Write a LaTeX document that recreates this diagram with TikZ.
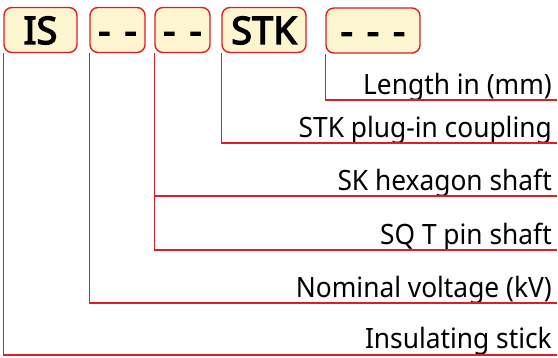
\documentclass[tikz,border=0pt]{standalone}
\usepackage{fontspec}
\setmainfont{Noto Sans}[FakeStretch=0.94]
\newfontfamily\boxfont{Noto Sans}[FakeStretch=1.0, FakeBold=3.5]
\newcommand\dashgap{\hspace{14pt}}
\definecolor{lred}{RGB}{228,26,36}
\definecolor{lcream}{RGB}{252,245,208}
\tikzset{
  codebox/.style={draw=lred, fill=lcream, line width=1.4pt, rounded corners=8pt,
    minimum height=45pt, inner sep=0pt, text height=28pt, text depth=0pt,
    font=\boxfont\fontsize{38}{40}\selectfont, text=black},
  leader/.style={draw=lred, line width=1.3pt},
  lbl/.style={anchor=base east, inner sep=0pt, font=\fontsize{28}{32}\selectfont, text=black}
}
\begin{document}
\begin{tikzpicture}[x=1pt,y=-1pt]
\useasboundingbox (0,0) rectangle (558,358);
\node[codebox, minimum width=73pt] (b1) at (40.5,30) {IS};
\node[codebox, minimum width=55pt] (b2) at (117.5,30) {-\dashgap-};
\node[codebox, minimum width=55pt] (b3) at (182.5,30) {-\dashgap-};
\node[codebox, minimum width=84pt] (b4) at (264,30) {STK};
\node[codebox, minimum width=94pt] (b5) at (373,30.5) {-\dashgap-\dashgap-};
% labels
\node[lbl] (t5) at (552,95) {Length in (mm)};
\node[lbl] (t4) at (552,138) {STK plug-in coupling};
\node[lbl] (t3) at (552,191) {SK hexagon shaft};
\node[lbl] (t3b) at (552,245) {SQ T pin shaft};
\node[lbl] (t2) at (552,298) {Nominal voltage (kV)};
\node[lbl] (t1) at (552,349) {Insulating stick};
% line ends
\coordinate (e5) at (557,100);
\coordinate (e4) at (557,143);
\coordinate (e3) at (557,196);
\coordinate (e3b) at (557,250);
\coordinate (e2) at (557,303);
\coordinate (e1) at (557,355);
\draw[leader] (b5.south west) |- (e5);
\draw[leader] (b4.south west) |- (e4);
\draw[leader] (b3.south west) |- (e3);
\draw[leader] (b3.south west) |- (e3b);
\draw[leader] (b2.south west) |- (e2);
\draw[leader] (b1.south west) |- (e1);
\end{tikzpicture}
\end{document}
